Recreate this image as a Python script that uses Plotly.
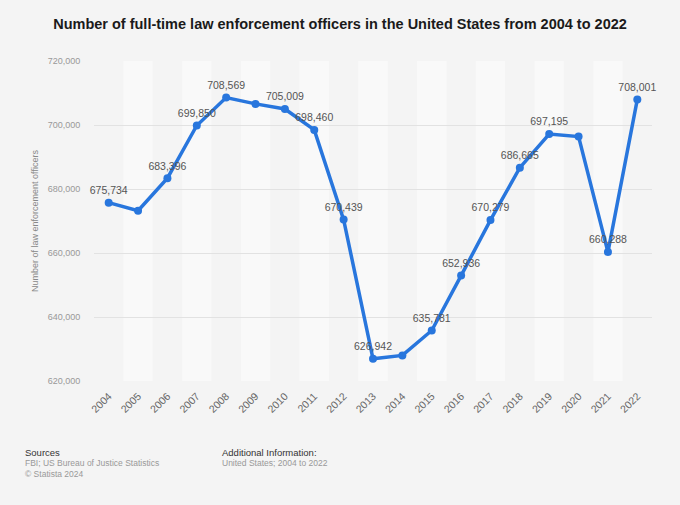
import plotly.graph_objects as go

years = [str(y) for y in range(2004, 2023)]
officers = [675734, 673200, 683396, 699850, 708569, 706600, 705009, 698460, 670439,
            626942, 628000, 635781, 652936, 670279, 686665, 697195, 696400, 660288, 708001]
labelled = [True, False, True, True, True, False, True, True, True,
            True, False, True, True, True, True, True, False, True, True]
labels = [f"{v:,}" if show else "" for v, show in zip(officers, labelled)]
y_ticks = [620000, 640000, 660000, 680000, 700000, 720000]

fig = go.Figure()
fig.add_trace(go.Scatter(
    x=years, y=officers, mode="lines+markers+text",
    text=labels, textposition="top center",
    textfont=dict(family="Liberation Sans, Arial", size=10.5, color="#555555"),
    line=dict(color="#2876dd", width=3.5),
    marker=dict(color="#2876dd", size=8),
    cliponaxis=False, hoverinfo="x+y",
))

shapes = []
for i in range(len(years)):
    if i % 2 == 1:
        shapes.append(dict(type="rect", xref="x", yref="paper",
                           x0=i - 0.5, x1=i + 0.5, y0=0, y1=1,
                           fillcolor="#f9f9f9", line_width=0, layer="below"))

W, H = 680, 505
pl, pr, pt, pb = 94, 28, 61, 124
pw, ph = W - pl - pr, H - pt - pb

fig.update_layout(
    width=W, height=H,
    paper_bgcolor="#f4f4f4", plot_bgcolor="#f4f4f4",
    margin=dict(l=pl, r=pr, t=pt, b=pb),
    showlegend=False,
    shapes=shapes,
    font=dict(family="Liberation Sans, Arial"),
    title=dict(text="<b>Number of full-time law enforcement officers in the United States from 2004 to 2022</b>",
               x=0.5, xanchor="center", y=(H - 24) / H, yanchor="middle",
               font=dict(size=14.5, color="#1a1a1a")),
    xaxis=dict(type="category", range=[-0.5, 18.5], tickangle=-45,
               tickfont=dict(size=10.5, color="#666666"), showgrid=False,
               zeroline=False, showline=False, ticks="outside", ticklen=4,
               tickcolor="rgba(0,0,0,0)"),
    yaxis=dict(range=[620000, 720000], tickvals=y_ticks,
               ticktext=[f"{v:,}" for v in y_ticks],
               tickfont=dict(size=9, color="#999999"),
               gridcolor="#e2e2e2", gridwidth=1, zeroline=False, showline=False,
               ticks="outside", ticklen=11, tickcolor="rgba(0,0,0,0)",
               title=dict(text="Number of law enforcement officers",
                          font=dict(size=9, color="#888888"), standoff=7)),
)

def px(x):
    return (x - pl) / pw
def py(y):
    return (H - pb - y) / ph

footer = [
    ("Sources", 23, 452, "#333333", 9.5),
    ("FBI; US Bureau of Justice Statistics", 23, 463, "#999999", 8.5),
    ("© Statista 2024", 23, 474, "#999999", 8.5),
    ("Additional Information:", 220, 452, "#333333", 9.5),
    ("United States; 2004 to 2022", 220, 463, "#999999", 8.5),
]
for txt, x, y, c, s in footer:
    fig.add_annotation(text=txt, x=px(x), y=py(y), xref="paper", yref="paper",
                       xanchor="left", yanchor="middle", showarrow=False,
                       font=dict(size=s, color=c))

fig.write_html(
    "out.html",
    config={"displayModeBar": False},
    post_script="document.body.style.margin='0';document.body.style.background='#f4f4f4';",
)
